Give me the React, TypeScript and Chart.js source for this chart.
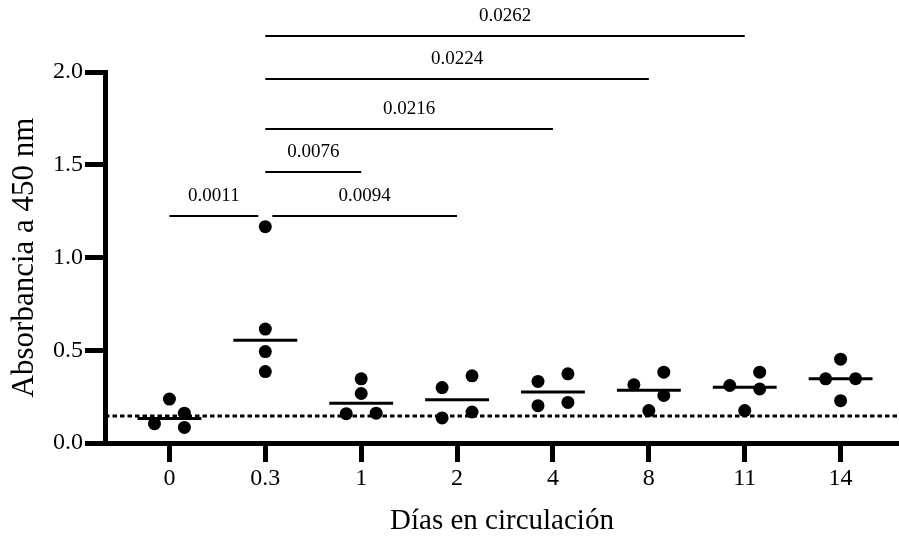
import React, { useEffect, useRef } from 'react';
import { Chart, registerables } from 'chart.js';

Chart.register(...registerables);

// ---------- data ----------
const categories = ['0', '0.3', '1', '2', '4', '8', '11', '14'];
const day0 = [0.161, 0.237, 0.104, 0.084];
const day03 = [1.166, 0.614, 0.493, 0.385];
const day1 = [0.158, 0.346, 0.267, 0.161];
const day2 = [0.299, 0.362, 0.135, 0.167];
const day4 = [0.332, 0.373, 0.201, 0.219];
const day8 = [0.314, 0.382, 0.256, 0.175];
const day11 = [0.31, 0.382, 0.291, 0.175];
const day14 = [0.452, 0.346, 0.347, 0.228];
const groups = [day0, day03, day1, day2, day4, day8, day11, day14];

const cutoff = 0.145;
const yTickValues = [0, 0.5, 1.0, 1.5, 2.0];

// significance comparisons (group indexes)
const compFrom = [0, 1, 1, 1, 1, 1];
const compTo = [1, 3, 2, 4, 5, 6];
const compLabels = ['0.0011', '0.0094', '0.0076', '0.0216', '0.0224', '0.0262'];
const compLevels = [1.223, 1.223, 1.461, 1.692, 1.961, 2.192];

const xTitle = 'Días en circulación';
const yTitle = 'Absorbancia a 450 nm';

// ---------- style ----------
const FONT = "'Liberation Serif', 'Times New Roman', serif";
const X_MIN = -0.672;
const X_MAX = 7.609;
const SLOT = 0.156; // horizontal spread step (category units)
const COLLIDE = 0.0753; // vertical overlap threshold (value units)
const MEDIAN_HALF = 0.333;

function median(a: number[]) {
  const s = [...a].sort((p, q) => p - q);
  const m = Math.floor(s.length / 2);
  return s.length % 2 ? s[m] : (s[m - 1] + s[m]) / 2;
}

// simple beeswarm: returns slot per value
function swarm(values: number[]) {
  const order = values.map((_, i) => i).sort((a, b) => values[b] - values[a]);
  const placed: { i: number; v: number; slot: number }[] = [];
  for (const i of order) {
    const v = values[i];
    const col = placed.filter((p) => Math.abs(p.v - v) < COLLIDE);
    let slot = 0;
    if (col.length === 0) slot = 0;
    else if (col.length === 1 && col[0].slot === 0) {
      col[0].slot = 1;
      slot = -1;
    } else {
      const occ = new Set(col.map((c) => c.slot));
      for (const c of [1, -1, 2, -2, 0]) {
        if (!occ.has(c)) {
          slot = c;
          break;
        }
      }
    }
    placed.push({ i, v, slot });
  }
  const out = new Array(values.length).fill(0);
  placed.forEach((p) => (out[p.i] = p.slot));
  return out;
}

const bracketPlugin = {
  id: 'brackets',
  afterDatasetsDraw(chart: any) {
    const { ctx, scales } = chart;
    const xs = scales.x;
    const ys = scales.y;
    ctx.save();
    ctx.strokeStyle = '#000';
    ctx.fillStyle = '#000';
    ctx.lineWidth = 2;
    ctx.font = `19px ${FONT}`;
    ctx.textAlign = 'center';
    ctx.textBaseline = 'alphabetic';
    const GAP = 7;
    compLabels.forEach((lab, k) => {
      const lvl = compLevels[k];
      let x1 = xs.getPixelForValue(compFrom[k]);
      let x2 = xs.getPixelForValue(compTo[k]);
      // shorten where brackets at the same level meet
      compLabels.forEach((_, j) => {
        if (j === k || compLevels[j] !== lvl) return;
        if (compTo[j] === compFrom[k]) x1 += GAP;
        if (compFrom[j] === compTo[k]) x2 -= GAP;
      });
      const y = Math.round(ys.getPixelForValue(lvl));
      ctx.beginPath();
      ctx.moveTo(x1, y);
      ctx.lineTo(x2, y);
      ctx.stroke();
      ctx.fillText(lab, (x1 + x2) / 2, y - 15.5);
    });
    ctx.restore();
  },
};

export default function App() {
  const ref = useRef<HTMLCanvasElement | null>(null);

  useEffect(() => {
    if (!ref.current) return;

    const points: { x: number; y: number }[] = [];
    groups.forEach((vals, gi) => {
      const slots = swarm(vals);
      vals.forEach((v, k) => points.push({ x: gi + slots[k] * SLOT, y: v }));
    });

    const medianSets = groups.map((vals, gi) => {
      const m = median(vals);
      return {
        type: 'line' as const,
        data: [
          { x: gi - MEDIAN_HALF, y: m },
          { x: gi + MEDIAN_HALF, y: m },
        ],
        borderColor: '#000',
        borderWidth: 3,
        pointRadius: 0,
        fill: false,
      };
    });

    const chart = new Chart(ref.current, {
      type: 'scatter',
      data: {
        datasets: [
          {
            type: 'line' as const,
            data: [
              { x: X_MIN, y: cutoff },
              { x: X_MAX, y: cutoff },
            ],
            borderColor: '#000',
            borderWidth: 3,
            borderDash: [4.5, 3],
            pointRadius: 0,
            fill: false,
          },
          ...medianSets,
          {
            type: 'scatter' as const,
            data: points,
            backgroundColor: '#000',
            borderWidth: 0,
            pointRadius: 6.5,
            pointHoverRadius: 6.5,
          },
        ] as any,
      },
      options: {
        animation: false,
        responsive: false,
        devicePixelRatio: 1,
        events: [],
        layout: { autoPadding: false, padding: { top: 72, left: 0, right: 0, bottom: 0 } },
        plugins: {
          legend: { display: false },
          tooltip: { enabled: false },
        },
        scales: {
          x: {
            type: 'linear',
            min: X_MIN,
            max: X_MAX,
            afterBuildTicks: (s: any) => {
              s.ticks = categories.map((_, i) => ({ value: i }));
            },
            afterFit: (s: any) => {
              s.height = 96;
              s.paddingLeft = 0;
              s.paddingRight = 0;
            },
            ticks: {
              autoSkip: false,
              maxRotation: 0,
              color: '#000',
              padding: 2,
              font: { family: FONT, size: 24 },
              callback: (v: any) => categories[Math.round(Number(v))] ?? '',
            },
            grid: {
              display: true,
              drawOnChartArea: false,
              drawTicks: true,
              tickLength: 19,
              tickWidth: 5,
              tickColor: '#000',
              lineWidth: 5,
              color: '#000',
            },
            border: { display: true, color: '#000', width: 5 },
            title: {
              display: true,
              text: xTitle,
              color: '#000',
              font: { family: FONT, size: 29 },
              padding: { top: 0, bottom: 0 },
            },
          },
          y: {
            type: 'linear',
            min: 0,
            max: 2,
            afterBuildTicks: (s: any) => {
              s.ticks = yTickValues.map((v) => ({ value: v }));
            },
            afterFit: (s: any) => {
              s.width = 105;
            },
            ticks: {
              color: '#000',
              padding: 2,
              font: { family: FONT, size: 24 },
              callback: (v: any) => Number(v).toFixed(1),
            },
            grid: {
              display: true,
              drawOnChartArea: false,
              drawTicks: true,
              tickLength: 20,
              tickWidth: 5,
              tickColor: '#000',
              lineWidth: 5,
              color: '#000',
            },
            border: { display: true, color: '#000', width: 5 },
            title: {
              display: true,
              text: yTitle,
              color: '#000',
              font: { family: FONT, size: 31 },
              padding: { top: 6, bottom: 0 },
            },
          },
        },
      },
      plugins: [bracketPlugin],
    } as any);

    return () => chart.destroy();
  }, []);

  return (
    <div style={{ position: 'fixed', left: 0, top: 0, width: 899, height: 539, background: '#fff' }}>
      <canvas ref={ref} width={899} height={539} style={{ display: 'block' }} />
    </div>
  );
}
